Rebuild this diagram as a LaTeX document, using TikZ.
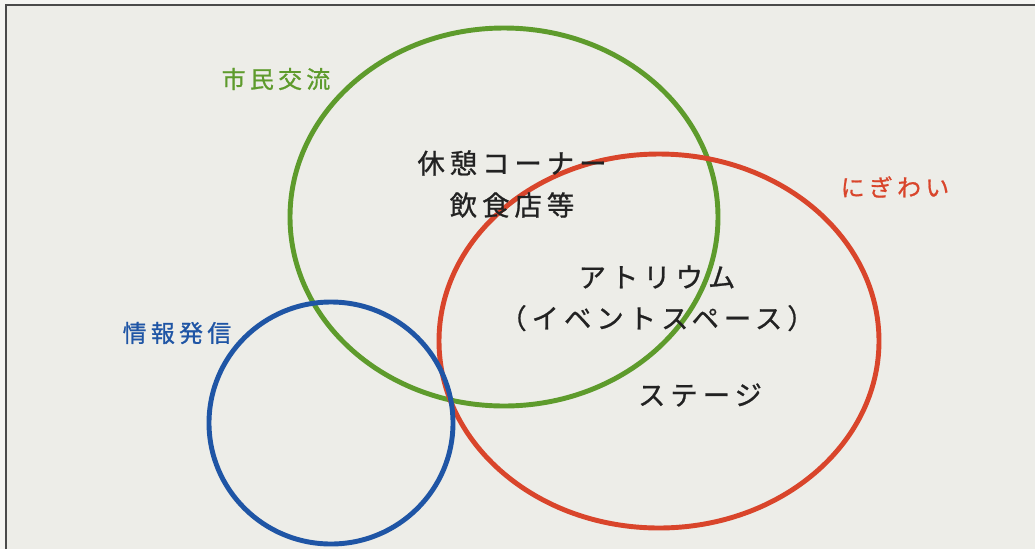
\documentclass[tikz,border=0pt]{standalone}
\usepackage{fontspec}
\newfontfamily\jpfont[LetterSpace=18, FakeBold=0.8]{Noto Sans CJK JP}
\usepackage{tikz}
\usetikzlibrary{positioning}
\definecolor{papergray}{HTML}{EDEDE8}
\definecolor{outergray}{HTML}{F5F5F2}
\definecolor{framegray}{HTML}{4A4A4A}
\definecolor{kogreen}{HTML}{5E9B2C}
\definecolor{kored}{HTML}{D9452B}
\definecolor{koblue}{HTML}{1F55A5}
\definecolor{inkblack}{HTML}{222222}
\tikzstyle{ring} = [line width=3.5pt]
\tikzstyle{title} = [font=\jpfont\fontsize{17}{19}\selectfont, inner sep=0pt]
\tikzstyle{item} = [font=\jpfont\fontsize{19.5}{22}\selectfont, text=inkblack, inner sep=0pt, align=center]

\begin{document}
\begin{tikzpicture}[x=0.025cm, y=-0.025cm]

				% Paper and frame
				\fill[outergray] (0,0) rectangle (1035,549);
				\useasboundingbox (0,0) rectangle (1035,549);
				\fill[papergray] (6,5) rectangle (1035,549);
				\draw[framegray, line width=1.4pt] (6,549) -- (6,5) -- (1035,5);

				% Circles
				\coordinate (cgreen) at (504,217);
				\coordinate (cred) at (659,341);
				\coordinate (cblue) at (331,423);
				\draw[ring, kogreen] (cgreen) ellipse [x radius=214, y radius=189];
				\draw[ring, kored] (cred) ellipse [x radius=220, y radius=187];
				\draw[ring, koblue] (cblue) ellipse [x radius=122, y radius=121];

				% Circle titles
				\node[title, text=kogreen] (shimin) at (276,79) {市民交流};
				\node[title, text=kored] (nigiwai) at (895,187) {にぎわい};
				\node[title, text=koblue] (joho) at (177,333) {情報発信};

				% Contents
				\node[item] (kyukei) at (512,163) {休憩コーナー};
				\node[item, below = 0.40 cm of kyukei] (inshoku) {飲食店等};
				\node[item] (atrium) at (657,277) {アトリウム};
				\node[item, below = 0.40 cm of atrium] (event) {（イベントスペース）};
				\node[item] (stage) at (700,395) {ステージ};

\end{tikzpicture}
\end{document}
